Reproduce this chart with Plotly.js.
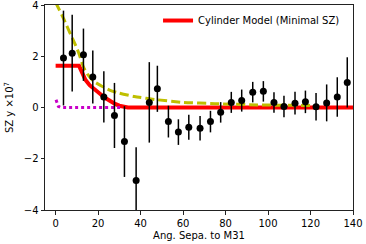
<!DOCTYPE html>
<html>
<head>
<meta charset="utf-8">
<script src="https://cdn.plot.ly/plotly-3.0.1.min.js"></script>
<style>html,body{margin:0;padding:0;background:#fff;}#chart{width:366px;height:244px;}</style>
</head>
<body>
<div id="chart"></div>
<script>
// Observed SZ profile (binned)
const obsX = [3.7, 7.8, 13.1, 17.5, 22.7, 27.7, 32.4, 37.9, 44.1, 47.9, 53.1, 57.8, 62.7, 68.0, 72.9, 77.7, 82.7, 87.6, 92.8, 97.8, 102.8, 107.5, 112.7, 117.6, 122.6, 127.6, 132.6, 137.3];
const obsY = [1.93, 2.12, 2.06, 1.19, 0.41, -0.31, -1.33, -2.85, 0.20, 0.73, -0.55, -0.96, -0.77, -0.81, -0.55, -0.19, 0.20, 0.27, 0.60, 0.63, 0.20, 0.04, 0.17, 0.22, 0.03, 0.18, 0.41, 0.98];
const obsErr = [1.85, 1.50, 1.02, 1.03, 1.00, 1.27, 1.38, 1.30, 1.57, 0.90, 0.62, 0.50, 0.49, 0.48, 0.42, 0.40, 0.41, 0.43, 0.40, 0.40, 0.40, 0.42, 0.44, 0.44, 0.54, 0.72, 0.77, 0.98];

// Cylinder model (minimal SZ)
const cylX = [0, 11, 12, 13, 14, 16, 18, 20, 22, 24, 26, 28, 30, 32, 34, 140];
const cylY = [1.63, 1.63, 1.45, 1.26, 1.08, 0.87, 0.72, 0.59, 0.46, 0.34, 0.23, 0.14, 0.07, 0.02, 0, 0];

// Dashed model
const dashX = [0, 3, 6, 9, 11, 13, 15, 18, 22, 26, 30, 37, 48, 60, 75, 95, 120];
const dashY = [4.1, 3.6, 3.05, 2.5, 2.1, 1.6, 1.3, 1.02, 0.82, 0.66, 0.56, 0.43, 0.3, 0.2, 0.15, 0.1, 0.08];

// Dotted model
const dotX = [0.2, 1.3, 2.5, 31];
const dotY = [0.3, 0.04, 0, 0];

// Tick labels
const xTicks = [0, 20, 40, 60, 80, 100, 120, 140];
const yTicks = [-4, -2, 0, 2, 4];

const traces = [
  {x: cylX, y: cylY, mode: 'lines', name: 'Cylinder Model (Minimal SZ)',
   line: {color: '#ff0000', width: 4}, showlegend: true, hoverinfo: 'skip'},
  {x: dashX, y: dashY, mode: 'lines', line: {color: '#bfbf00', width: 3, dash: '9px,4px', shape: 'spline', smoothing: 0.6},
   showlegend: false, hoverinfo: 'skip'},
  {x: dotX, y: dotY, mode: 'lines', line: {color: '#c800c8', width: 3, dash: 'dot'},
   showlegend: false, hoverinfo: 'skip'},
  {x: obsX, y: obsY, mode: 'markers', type: 'scatter',
   marker: {color: '#000', size: 7},
   error_y: {type: 'data', array: obsErr, visible: true, color: '#000', thickness: 1.5, width: 0},
   showlegend: false}
];

const axisFont = {family: 'DejaVu Sans', size: 10, color: '#000'};
const layout = {
  width: 366, height: 244,
  margin: {l: 45, r: 13, t: 5, b: 34, pad: 0},
  paper_bgcolor: '#fff', plot_bgcolor: '#fff',
  font: axisFont,
  showlegend: true,
  legend: {x: 0.367, y: 0.995, xanchor: 'left', yanchor: 'top', bgcolor: 'rgba(255,255,255,0.8)',
           borderwidth: 0, font: axisFont, itemwidth: 30},
  xaxis: {
    range: [-5, 140], tickvals: xTicks,
    showgrid: false, zeroline: false, showline: true, mirror: true, linecolor: '#222', linewidth: 1,
    ticks: 'outside', ticklen: 3.5, tickwidth: 1, tickcolor: '#222', tickfont: axisFont,
    ticklabeloverflow: 'allow',
    title: {text: 'Ang. Sepa. to M31', font: axisFont, standoff: 4}
  },
  yaxis: {
    range: [-4, 4], tickvals: yTicks,
    showgrid: false, zeroline: false, showline: true, mirror: true, linecolor: '#222', linewidth: 1,
    ticks: 'outside', ticklen: 3.5, tickwidth: 1, tickcolor: '#222', tickfont: axisFont,
    ticklabeloverflow: 'allow',
    title: {text: 'SZ y ×10<sup>7</sup>', font: axisFont, standoff: 8}
  }
};

Plotly.newPlot('chart', traces, layout, {displayModeBar: false, staticPlot: true});
</script>
</body>
</html>
